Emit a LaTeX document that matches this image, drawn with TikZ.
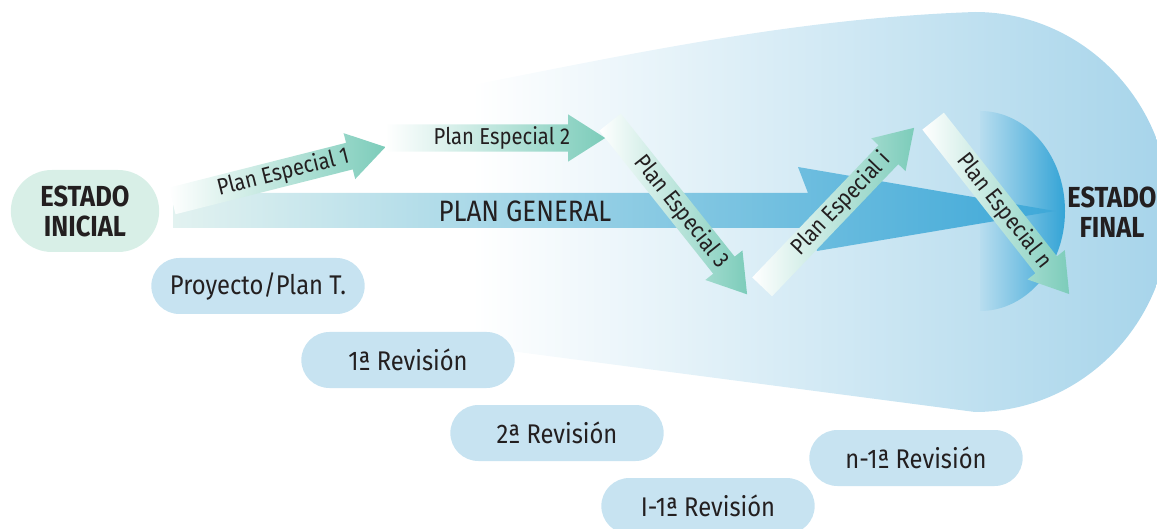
\documentclass[tikz,border=0pt]{standalone}
\usepackage{fontspec}
\setmainfont{Fira Sans}[FakeStretch=0.88]
\usetikzlibrary{shapes.misc,shapes.arrows,calc}

\definecolor{inifill}{RGB}{216,239,231}
\definecolor{revfill}{RGB}{199,227,241}
\definecolor{blobblue}{RGB}{166,212,234}
\definecolor{diskleft}{RGB}{184,221,239}
\definecolor{diskblue}{RGB}{52,164,214}
\definecolor{pgleft}{RGB}{226,242,240}
\definecolor{pgright}{RGB}{62,168,216}
\definecolor{peteal}{RGB}{124,204,186}
\definecolor{txt}{RGB}{35,31,32}

\begin{document}
\begin{tikzpicture}[x=1pt, y=1pt,
    pill/.style={rounded rectangle, fill=revfill, minimum width=220pt,
      minimum height=56pt, text=txt, font=\fontsize{27}{30}\selectfont},
    estado/.style={text=txt, align=center, font=\fontsize{29}{30}\selectfont\bfseries},
    especial/.style={single arrow, single arrow head extend=10pt,
      single arrow tip angle=65, minimum height=220pt, text height=15pt,
      text depth=4pt, inner ysep=4pt, inner xsep=0pt, anchor=tail,
      left color=white, right color=peteal},
    etiqueta/.style={text=txt, inner sep=0pt, font=\fontsize{23}{26}\selectfont}]
      \useasboundingbox (0,0) rectangle (1157,-529);
      \clip (0,0) rectangle (1157,-529);

      % fondo
      \shade [left color=white, right color=blobblue]
      (472,-85) .. controls (640,-52) and (800,-18) .. (975,-12)
      arc[start angle=90, end angle=-90, x radius=195, y radius=200]
      -- (472,-346) -- cycle;
      \shade [left color=diskleft, right color=diskblue]
      (980,-111) arc[start angle=90, end angle=-90, x radius=85, y radius=100] -- cycle;

      % plan general
      \shade [left color=pgleft, right color=pgright]
      (173,-193) -- (808,-193) -- (798,-167) -- (1055,-211) -- (817,-251)
      -- (811,-228) -- (173,-228) -- cycle;
      \node at (525,-211) [name=pg, text=txt, font=\fontsize{29.5}{32}\selectfont] {PLAN GENERAL};

      % planes especiales
      \node at (172,-201) [especial, rotate=14.2, name=pe1] {};
      \node at (385,-138) [especial, name=pe2] {};
      \node at (610,-122) [especial, rotate=-51.5, name=pe3] {};
      \node at (762,-287) [especial, rotate=46.3, name=pei] {};
      \node at (933,-121) [especial, rotate=-51.8, name=pen] {};

      \node at ($(pe1.tail)!0.52!(pe1.tip)$) [etiqueta, rotate=14.2, name=l1] {Plan Especial 1};
      \node at ($(pe2.tail)!0.53!(pe2.tip)$) [etiqueta, name=l2] {Plan Especial 2};
      \node at ($(pe3.tail)!0.52!(pe3.tip)$) [etiqueta, rotate=-51.5, name=l3] {Plan Especial 3};
      \node at ($(pei.tail)!0.52!(pei.tip)$) [etiqueta, rotate=46.3, name=li] {Plan Especial i};
      \node at ($(pen.tail)!0.52!(pen.tip)$) [etiqueta, rotate=-51.8, name=ln] {Plan Especial n};

      % estados
      \node at (85,-211) [rounded rectangle, fill=inifill, minimum width=155pt,
      minimum height=82pt, estado, name=ini] {ESTADO\\INICIAL};
      \node at (1112,-212) [estado, name=fin] {ESTADO\\FINAL};

      % revisiones
      \node at (258,-286) [pill, name=proy] {Proyecto/Plan T.};
      \node at (408,-360) [pill, name=rev1] {1ª Revisión};
      \node at (557,-433) [pill, name=rev2] {2ª Revisión};
      \node at (708,-506) [pill, name=revI] {I-1ª Revisión};
      \node at (916,-458) [pill, name=revn] {n-1ª Revisión};
    \end{tikzpicture}
\end{document}
